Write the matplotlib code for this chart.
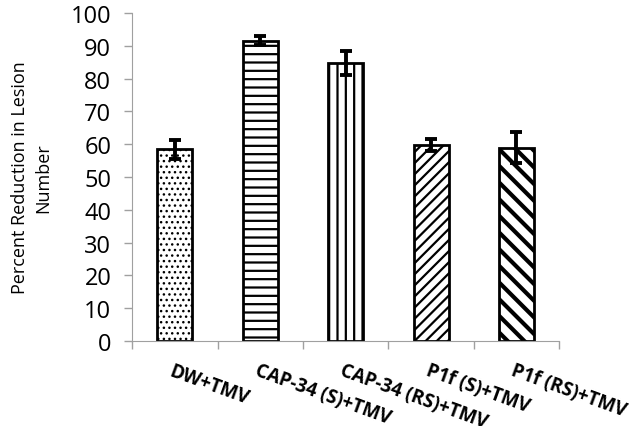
import matplotlib.pyplot as plt
import numpy as np

plt.rcParams['font.family'] = ['Open Sans', 'DejaVu Sans']

# Data
categories = ['DW+TMV', 'CAP-34 (S)+TMV', 'CAP-34 (RS)+TMV', 'P1f (S)+TMV', 'P1f (RS)+TMV']
values = [58.5, 91.6, 84.7, 59.8, 59.0]
errors = [2.9, 1.3, 3.6, 1.8, 4.6]
hatches = ['...', '--', '||', '///', '\\\\']
hatch_widths = [1.0, 1.6, 1.6, 1.6, 3.0]

fig = plt.figure(figsize=(6.29, 4.27), dpi=100)
ax = fig.add_axes([0.21, 0.199, 0.679, 0.768])

x = np.arange(len(categories))
for i in range(len(categories)):
    plt.rcParams['hatch.linewidth'] = hatch_widths[i]
    b = ax.bar(x[i], values[i], width=0.41, color='white', edgecolor='black',
               linewidth=2, hatch=hatches[i], zorder=2)
    for p in b:
        if hasattr(p, 'set_hatch_linewidth'):
            p.set_hatch_linewidth(hatch_widths[i])
ax.errorbar(x, values, yerr=errors, fmt='none', ecolor='black', elinewidth=2.8,
            capsize=4.5, capthick=2.8, zorder=3)

ax.set_xlim(-0.5, len(categories) - 0.5)
ax.set_ylim(0, 100)
ax.set_yticks(np.arange(0, 101, 10))
ax.tick_params(axis='y', labelsize=17, color='#a0a0a0', length=6, width=1, pad=9)
ax.set_xticks(np.arange(-0.5, len(categories), 1))
ax.set_xticklabels([])
ax.tick_params(axis='x', color='#a0a0a0', length=6, width=1)

for i, lab in enumerate(categories):
    ax.annotate(lab, xy=(x[i], 0), xycoords=('data', 'axes fraction'),
                xytext=(-1, -14), textcoords='offset points', rotation=-20,
                ha='left', va='top', rotation_mode='anchor',
                fontsize=13.5, fontweight='bold')

for s in ['top', 'right']:
    ax.spines[s].set_visible(False)
for s in ['left', 'bottom']:
    ax.spines[s].set_color('#a0a0a0')

ax.set_ylabel('Percent Reduction in Lesion\nNumber', fontsize=13, labelpad=13,
              linespacing=1.4)

fig.savefig('out.png', dpi=100)
